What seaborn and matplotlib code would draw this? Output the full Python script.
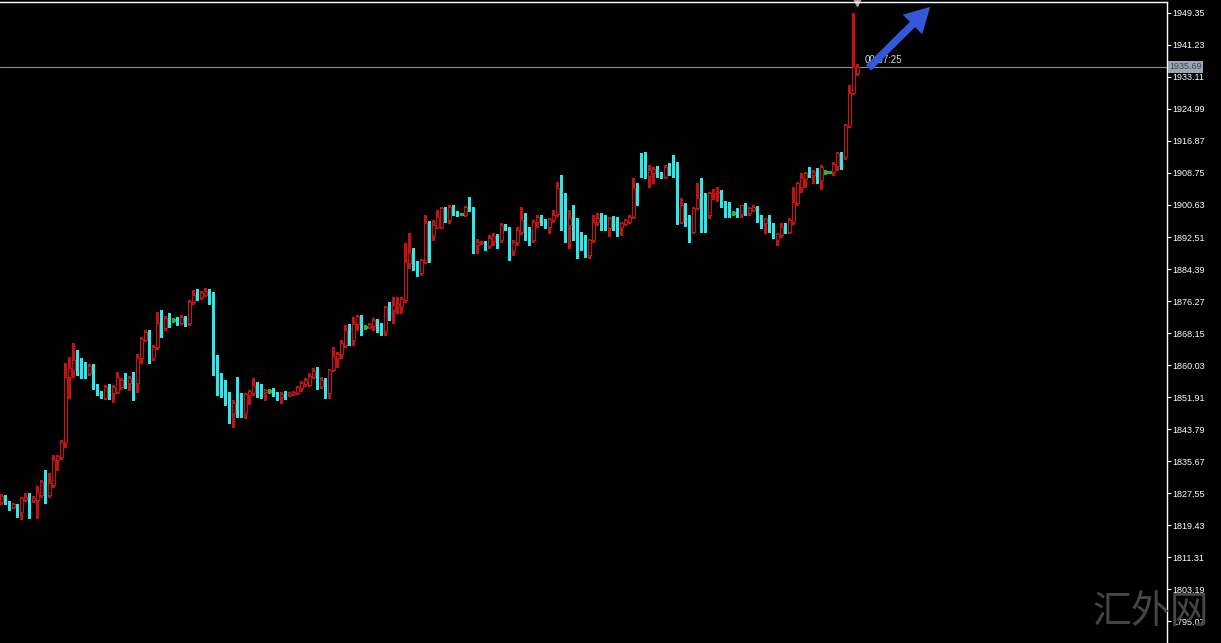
import numpy as np
import pandas as pd
import seaborn as sns
import matplotlib
matplotlib.use('Agg')
import matplotlib.pyplot as plt
from matplotlib.transforms import blended_transform_factory

# OHLC, one candle per bar, oldest first
opens = [1825.3, 1826.8, 1825.0, 1824.0, 1824.5, 1822.7, 1825.8, 1826.5, 1825.8, 1825.8,
         1827.0, 1830.3, 1827.0, 1829.6, 1835.9, 1836.7, 1840.5, 1857.0, 1858.8, 1861.3,
         1860.3, 1859.8, 1858.0, 1859.8, 1855.0, 1853.2, 1851.7, 1854.7, 1852.9, 1853.2,
         1854.5, 1857.5, 1855.5, 1856.5, 1855.5, 1861.8, 1866.4, 1868.4, 1861.8, 1864.6,
         1870.9, 1869.4, 1871.9, 1871.4, 1871.7, 1870.7, 1872.2, 1870.7, 1876.0, 1877.8,
         1877.3, 1877.8, 1878.8, 1875.8, 1861.5, 1857.8, 1855.0, 1852.9, 1847.9, 1850.4,
         1849.1, 1847.9, 1852.4, 1852.9, 1855.5, 1854.5, 1853.2, 1853.4, 1853.7, 1852.9,
         1851.9, 1852.9, 1852.4, 1852.7, 1852.9, 1854.2, 1855.2, 1855.0, 1857.0, 1858.3,
         1854.7, 1856.2, 1852.9, 1858.8, 1861.8, 1862.8, 1865.1, 1869.1, 1866.4, 1870.4,
         1872.5, 1869.6, 1869.6, 1869.9, 1871.2, 1870.4, 1868.6, 1874.7, 1874.0, 1875.0,
         1875.0, 1876.5, 1885.9, 1888.4, 1886.2, 1883.4, 1886.2, 1896.3, 1893.0, 1895.0,
         1895.0, 1898.1, 1896.8, 1900.1, 1898.9, 1898.4, 1898.1, 1900.4, 1899.9, 1890.5,
         1891.0, 1891.2, 1890.2, 1891.5, 1893.0, 1891.8, 1895.3, 1894.7, 1889.2, 1891.2,
         1893.8, 1896.6, 1894.3, 1891.8, 1896.3, 1897.1, 1896.3, 1895.0, 1896.8, 1898.4,
         1904.9, 1898.4, 1895.5, 1897.9, 1896.8, 1891.8, 1891.8, 1887.9, 1891.8, 1896.3,
         1898.1, 1897.6, 1894.7, 1897.3, 1896.3, 1895.0, 1895.8, 1896.3, 1897.6, 1904.9,
         1912.8, 1909.5, 1908.0, 1908.8, 1910.0, 1908.8, 1907.7, 1910.3, 1910.0, 1908.8,
         1896.3, 1900.6, 1896.8, 1893.8, 1899.9, 1902.4, 1901.4, 1898.1, 1903.4, 1903.7,
         1903.7, 1901.4, 1900.6, 1898.6, 1899.1, 1898.4, 1900.6, 1898.6, 1899.4, 1899.9,
         1897.3, 1896.1, 1897.3, 1895.0, 1891.8, 1893.0, 1895.0, 1893.8, 1896.3, 1901.2,
         1905.2, 1907.2, 1908.8, 1908.2, 1909.0, 1907.0, 1909.0, 1909.0, 1909.0, 1910.5,
         1913.8, 1912.8, 1920.7, 1929.0, 1934.1]
highs = [1827.3, 1827.0, 1825.5, 1825.0, 1824.8, 1826.5, 1827.55, 1827.55, 1826.8, 1829.3,
         1830.8, 1833.4, 1832.6, 1837.2, 1837.2, 1841.0, 1860.5, 1862.1, 1865.6, 1863.8,
         1861.8, 1860.8, 1860.3, 1860.3, 1855.2, 1853.5, 1855.0, 1855.2, 1855.0, 1858.3,
         1856.7, 1858.0, 1857.2, 1858.3, 1862.8, 1867.1, 1868.9, 1868.9, 1865.1, 1873.5,
         1874.0, 1872.5, 1873.2, 1871.9, 1872.2, 1872.7, 1872.5, 1876.5, 1879.1, 1879.3,
         1878.8, 1879.6, 1879.3, 1878.6, 1862.6, 1858.0, 1856.2, 1853.2, 1851.2, 1857.0,
         1852.9, 1852.9, 1853.7, 1856.7, 1855.7, 1855.2, 1854.0, 1853.9, 1854.2, 1853.2,
         1853.2, 1853.4, 1853.2, 1853.4, 1854.7, 1856.0, 1856.7, 1858.0, 1859.3, 1859.5,
         1857.0, 1856.7, 1859.0, 1864.6, 1863.3, 1866.4, 1870.2, 1870.4, 1872.2, 1872.7,
         1872.7, 1870.1, 1870.7, 1871.9, 1871.7, 1870.7, 1875.0, 1876.0, 1877.3, 1877.3,
         1877.3, 1891.0, 1893.5, 1889.7, 1886.4, 1886.9, 1898.1, 1896.6, 1896.8, 1899.4,
         1900.1, 1900.1, 1900.6, 1900.6, 1899.1, 1898.6, 1900.4, 1902.7, 1900.1, 1892.0,
         1891.5, 1891.5, 1893.0, 1893.5, 1893.3, 1896.1, 1895.8, 1895.0, 1891.8, 1895.0,
         1900.1, 1898.6, 1895.0, 1896.8, 1898.1, 1898.1, 1897.1, 1897.3, 1899.4, 1906.4,
         1908.2, 1903.7, 1899.4, 1900.6, 1897.3, 1893.8, 1893.0, 1892.0, 1898.1, 1898.6,
         1898.6, 1898.1, 1897.6, 1897.9, 1897.6, 1896.3, 1897.1, 1898.1, 1907.5, 1906.2,
         1913.8, 1914.1, 1910.8, 1910.3, 1910.5, 1909.0, 1910.8, 1911.3, 1913.3, 1911.6,
         1902.4, 1901.2, 1898.1, 1900.1, 1906.2, 1907.5, 1903.7, 1903.9, 1904.7, 1905.2,
         1904.4, 1901.7, 1901.4, 1899.1, 1899.9, 1900.6, 1901.2, 1900.1, 1900.6, 1900.4,
         1898.1, 1897.3, 1898.1, 1896.1, 1893.5, 1896.1, 1896.1, 1897.3, 1905.2, 1906.4,
         1908.8, 1909.0, 1910.3, 1909.5, 1910.0, 1910.8, 1909.5, 1909.3, 1911.6, 1914.1,
         1914.1, 1921.2, 1931.1, 1949.35, 1936.4]
lows = [1824.8, 1824.8, 1823.2, 1823.7, 1821.5, 1820.9, 1825.5, 1821.2, 1825.3, 1821.2,
        1826.5, 1825.0, 1826.5, 1829.1, 1833.4, 1836.2, 1839.2, 1851.7, 1857.0, 1857.5,
        1856.7, 1856.7, 1857.5, 1853.9, 1852.4, 1851.7, 1851.4, 1851.4, 1850.6, 1852.9,
        1854.0, 1854.2, 1853.7, 1851.2, 1853.2, 1860.5, 1866.1, 1860.5, 1861.3, 1864.1,
        1867.1, 1868.9, 1869.6, 1870.9, 1870.1, 1870.4, 1869.9, 1870.1, 1875.5, 1876.5,
        1876.8, 1877.5, 1875.5, 1857.5, 1852.4, 1851.9, 1849.9, 1845.3, 1844.3, 1846.9,
        1846.9, 1846.6, 1850.1, 1852.4, 1851.9, 1851.7, 1851.2, 1852.9, 1852.2, 1851.2,
        1850.4, 1851.4, 1852.2, 1852.4, 1852.7, 1853.4, 1854.7, 1854.7, 1856.7, 1853.9,
        1854.2, 1851.7, 1851.7, 1858.5, 1859.5, 1861.8, 1864.6, 1865.1, 1865.1, 1868.9,
        1867.6, 1869.1, 1869.4, 1868.9, 1868.4, 1867.6, 1867.6, 1871.4, 1870.7, 1873.2,
        1873.2, 1876.0, 1884.6, 1884.1, 1882.6, 1882.9, 1885.9, 1886.2, 1891.8, 1894.7,
        1894.7, 1896.3, 1896.1, 1898.1, 1897.9, 1898.1, 1897.9, 1899.1, 1888.4, 1888.4,
        1890.7, 1889.2, 1889.7, 1890.5, 1889.7, 1891.2, 1894.2, 1886.7, 1888.0, 1890.5,
        1893.3, 1891.8, 1890.5, 1891.2, 1895.0, 1895.5, 1894.7, 1893.5, 1896.3, 1897.9,
        1894.3, 1891.2, 1889.7, 1891.8, 1887.2, 1889.2, 1887.4, 1887.2, 1891.2, 1895.5,
        1894.3, 1894.3, 1892.8, 1894.3, 1892.8, 1893.0, 1895.5, 1896.1, 1897.3, 1900.6,
        1907.7, 1907.5, 1905.2, 1906.2, 1907.7, 1907.5, 1907.5, 1908.2, 1907.7, 1895.8,
        1896.1, 1895.3, 1891.2, 1893.5, 1899.6, 1893.8, 1893.8, 1897.3, 1902.2, 1901.7,
        1900.1, 1897.6, 1897.6, 1898.1, 1897.6, 1897.6, 1898.1, 1898.1, 1899.1, 1896.3,
        1894.7, 1893.5, 1893.8, 1892.3, 1890.5, 1892.5, 1893.5, 1893.5, 1895.8, 1900.6,
        1904.0, 1905.2, 1907.7, 1906.2, 1906.2, 1904.7, 1908.5, 1908.8, 1908.2, 1909.5,
        1909.8, 1912.3, 1920.4, 1928.8, 1933.6]
closes = [1826.8, 1825.0, 1824.0, 1824.8, 1822.7, 1826.3, 1826.5, 1825.5, 1826.3, 1827.55,
          1830.3, 1827.0, 1830.1, 1835.9, 1836.9, 1840.5, 1857.0, 1859.3, 1861.3, 1858.3,
          1859.8, 1858.0, 1859.8, 1855.0, 1853.2, 1851.9, 1854.5, 1851.9, 1854.5, 1857.0,
          1856.2, 1855.5, 1856.7, 1855.5, 1861.8, 1866.6, 1868.4, 1861.8, 1864.6, 1870.7,
          1867.6, 1871.9, 1870.9, 1871.4, 1870.7, 1872.2, 1870.7, 1876.0, 1877.8, 1877.3,
          1878.3, 1878.8, 1875.8, 1861.3, 1857.5, 1854.7, 1852.4, 1850.1, 1850.4, 1848.4,
          1847.9, 1852.7, 1853.4, 1855.0, 1854.2, 1852.9, 1853.7, 1853.4, 1852.9, 1851.9,
          1852.7, 1851.9, 1852.9, 1853.2, 1854.5, 1855.5, 1856.2, 1857.2, 1858.5, 1854.7,
          1856.2, 1852.9, 1858.8, 1862.1, 1862.8, 1865.6, 1868.9, 1866.1, 1870.4, 1872.5,
          1869.6, 1869.6, 1870.4, 1871.4, 1869.9, 1868.6, 1874.7, 1873.7, 1875.2, 1875.5,
          1876.8, 1886.2, 1888.4, 1886.2, 1883.4, 1886.7, 1896.1, 1893.5, 1895.5, 1897.6,
          1899.9, 1897.1, 1900.1, 1898.6, 1898.1, 1898.4, 1900.1, 1899.4, 1890.5, 1891.2,
          1891.2, 1890.0, 1892.3, 1892.8, 1891.8, 1895.5, 1894.7, 1889.2, 1891.2, 1894.3,
          1896.8, 1894.3, 1891.8, 1896.3, 1897.6, 1896.3, 1895.5, 1897.1, 1898.1, 1904.9,
          1898.1, 1896.8, 1897.3, 1896.6, 1887.9, 1891.2, 1887.9, 1891.8, 1896.3, 1897.3,
          1896.1, 1894.7, 1897.3, 1896.1, 1895.0, 1896.1, 1896.8, 1897.6, 1904.9, 1903.9,
          1909.0, 1908.0, 1909.5, 1909.8, 1908.2, 1907.7, 1910.3, 1909.5, 1908.2, 1896.3,
          1900.6, 1896.3, 1893.8, 1899.9, 1902.4, 1901.2, 1898.1, 1903.7, 1903.7, 1903.9,
          1901.4, 1900.4, 1898.6, 1898.6, 1898.6, 1900.6, 1898.4, 1899.9, 1900.1, 1896.8,
          1896.1, 1897.1, 1894.7, 1893.0, 1893.3, 1895.0, 1893.8, 1896.8, 1901.4, 1906.2,
          1907.5, 1908.8, 1908.2, 1909.0, 1907.0, 1910.3, 1909.0, 1909.0, 1911.1, 1913.8,
          1913.6, 1920.9, 1929.0, 1935.6, 1935.69]

price_ticks = [1795.07, 1803.19, 1811.31, 1819.43, 1827.55, 1835.67, 1843.79, 1851.91,
               1860.03, 1868.15, 1876.27, 1884.39, 1892.51, 1900.63, 1908.75, 1916.87,
               1924.99, 1933.11, 1941.23, 1949.35]
last_price = 1935.69
timer_text = '00:57:25'
watermark = '汇外网'

UP = '#c81010'
DOWN = '#30e6e6'
DOJI = '#2fb52f'

sns.set_theme(style='dark', rc={'axes.facecolor': 'black', 'figure.facecolor': 'black',
                                'axes.grid': False, 'axes.edgecolor': 'white'})
plt.rcParams['font.family'] = ['Liberation Sans', 'DejaVu Sans']

df = pd.DataFrame({'open': opens, 'high': highs, 'low': lows, 'close': closes})
df['x'] = np.arange(len(df))
up = df[df.close > df.open]
dn = df[df.close < df.open]
dj = df[df.close == df.open]

fig = plt.figure(figsize=(12.21, 6.43), dpi=100)
ax = fig.add_axes([0, 0, 1167 / 1221, 641 / 643])

# wicks
ax.vlines(up.x, up.low, up.high, colors=UP, lw=0.75, zorder=1, antialiased=False)
ax.vlines(dn.x, dn.low, dn.high, colors=DOWN, lw=0.75, zorder=1, antialiased=False)
ax.vlines(dj.x, dj.low, dj.high, colors=DOJI, lw=0.75, zorder=1, antialiased=False)
# bodies: bull candles hollow red, bear candles filled cyan
ax.bar(up.x, up.close - up.open, bottom=up.open, width=0.62, color='black',
       edgecolor=UP, linewidth=0.7, zorder=2, antialiased=False)
ax.bar(dn.x, dn.open - dn.close, bottom=dn.close, width=0.75, color=DOWN,
       linewidth=0, zorder=2, antialiased=False)
ax.hlines(dj.close, dj.x - 0.375, dj.x + 0.375, colors=DOJI, lw=0.75, zorder=2,
          antialiased=False)

ax.set_xlim(-0.325, 291.4)
ax.set_ylim(1789.49, 1952.14)

# current price line and label
ax.axhline(last_price, color='#8c8c8c', lw=0.8, zorder=0)
trans = blended_transform_factory(ax.transAxes, ax.transData)
ax.text(1.0018, last_price, f'{last_price:.2f}', transform=trans, va='center', ha='left',
        fontsize=6.5, color='#34465a', clip_on=False,
        bbox=dict(boxstyle='square,pad=0.15', fc='#9aa6b3', ec='none'))

# bar timer
last_x = df.x.iloc[-1]
ax.text(last_x + 1.9, last_price + 0.4, timer_text, fontsize=7, color='#dcdcdc',
        va='bottom', ha='left')

# blue arrow
ax.annotate('', xy=(last_x + 18.7, 1951.4), xytext=(last_x + 2.3, 1934.9),
            arrowprops=dict(arrowstyle='simple,head_length=1.0,head_width=1.1,tail_width=0.3',
                            mutation_scale=18, color='#3558d8', lw=0))

# chart shift marker
ax.plot([last_x], [1.0], marker='v', color='#a8a8a8', markersize=6,
        transform=blended_transform_factory(ax.transData, ax.transAxes), clip_on=False)

ax.spines['left'].set_visible(False)
ax.spines['bottom'].set_visible(False)
ax.spines['top'].set_color('white')
ax.spines['right'].set_color('white')
ax.spines['top'].set_linewidth(1)
ax.spines['right'].set_linewidth(1)

ax.set_xticks([])
ax.yaxis.tick_right()
ax.set_yticks(price_ticks)
ax.set_yticklabels([f'{v:.2f}' for v in price_ticks])
ax.tick_params(axis='y', colors='white', labelcolor='white', labelsize=6.5,
               length=3, width=0.8, pad=1, direction='out', right=True, left=False)

fig.text(1151 / 1221, 1 - 612 / 643, watermark, fontsize=28, color='#454545',
         ha='center', va='center', family=['Noto Sans CJK SC', 'DejaVu Sans'],
         fontweight='light', zorder=0)

fig.savefig('out.png', dpi=100, facecolor='black')
